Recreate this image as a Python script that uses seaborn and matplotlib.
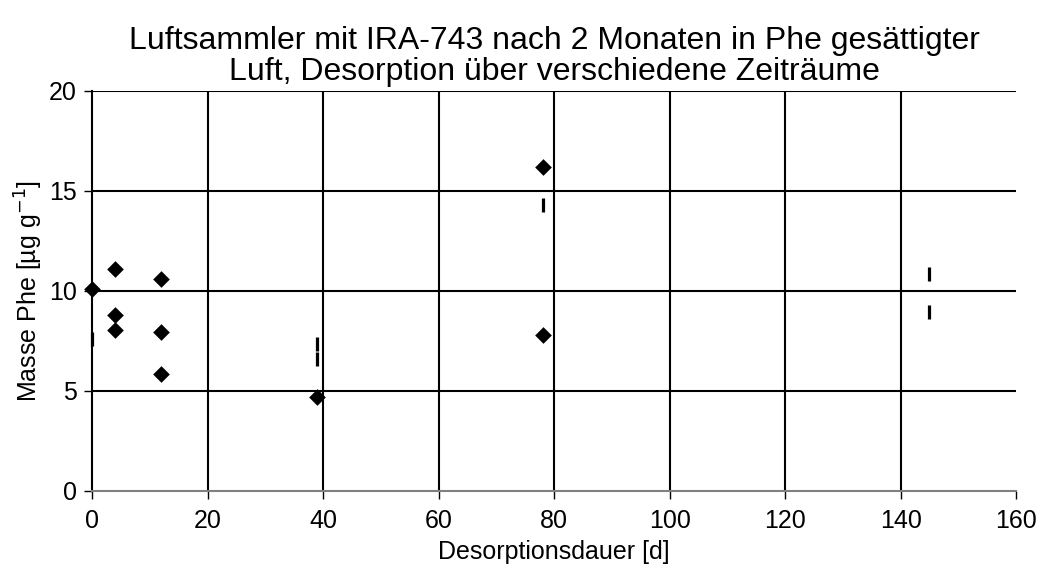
import matplotlib
matplotlib.use("Agg")
import matplotlib.pyplot as plt
import seaborn as sns
import pandas as pd

# Series 1: individual samples (diamonds)
days_a = [0, 4, 4, 4, 12, 12, 12, 39, 78, 78]
mass_a = [10.1, 11.1, 8.8, 8.05, 10.6, 7.95, 5.85, 4.7, 16.2, 7.8]

# Series 2: second set of samples (vertical dashes)
days_b = [0, 39, 39, 78, 145, 145]
mass_b = [7.6, 7.35, 6.6, 14.3, 10.85, 8.95]

x_ticks = [0, 20, 40, 60, 80, 100, 120, 140, 160]
y_ticks = [0, 5, 10, 15, 20]

sns.set_theme(style="white")
plt.rcParams['font.family'] = ['Liberation Sans', 'DejaVu Sans']

df_a = pd.DataFrame({"Tage": days_a, "Masse": mass_a})
df_b = pd.DataFrame({"Tage": days_b, "Masse": mass_b})

fig = plt.figure(figsize=(10.4, 5.74), dpi=100)
ax = fig.add_axes([0.0885, 0.1446, 0.8885, 0.6969])

ax.set_xlim(0, 160)
ax.set_ylim(0, 20)
ax.set_xticks(x_ticks)
ax.set_yticks(y_ticks)

# grid: vertical lines at every x tick except the last, horizontal at every y tick
for xv in x_ticks[1:-1]:
    ax.axvline(xv, color="black", lw=1.5, zorder=1)
for yv in y_ticks[1:]:
    ax.axhline(yv, color="black", lw=1.5, zorder=1)

sns.scatterplot(data=df_a, x="Tage", y="Masse", marker="D", s=72, color="black",
                edgecolor="black", linewidth=0, ax=ax, zorder=3, clip_on=False)
sns.scatterplot(data=df_b, x="Tage", y="Masse", marker="|", s=110, color="black",
                linewidth=2.3, ax=ax, zorder=3, clip_on=False)

for side in ("top", "right"):
    ax.spines[side].set_visible(False)
ax.spines["left"].set_color("black")
ax.spines["left"].set_linewidth(1.5)
ax.spines["bottom"].set_color("#808080")
ax.spines["bottom"].set_linewidth(1.5)

ax.tick_params(axis="both", which="major", direction="out", length=6, width=1,
               color="black", labelsize=18, labelcolor="black", left=True, bottom=True)
ax.tick_params(axis="y", pad=5)
ax.tick_params(axis="x", pad=7)

ax.set_xlabel("Desorptionsdauer [d]", fontsize=18, color="black", labelpad=5)
ax.set_ylabel("Masse Phe [µg g$^{-1}$]", fontsize=18, color="black", labelpad=3)
ax.set_title("Luftsammler mit IRA-743 nach 2 Monaten in Phe gesättigter\n"
             "Luft, Desorption über verschiedene Zeiträume",
             fontsize=23, color="black", pad=8, linespacing=1.05)

fig.savefig("out.png", dpi=100, facecolor="white")
